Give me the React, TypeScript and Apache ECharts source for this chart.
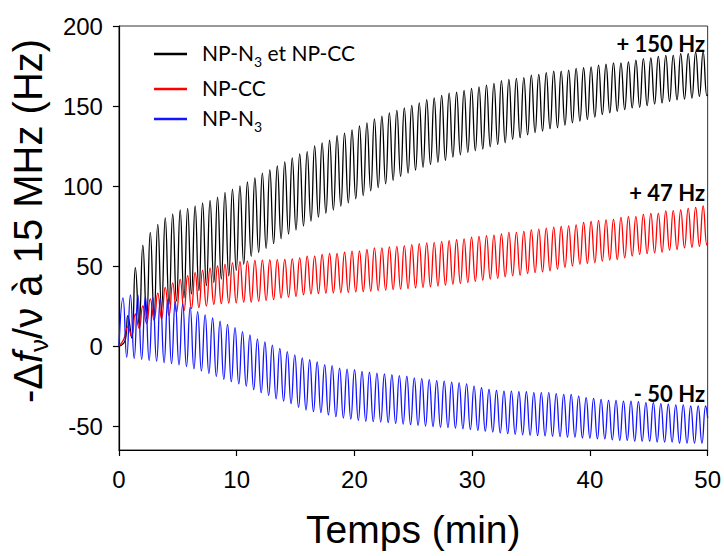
import React, { useEffect, useRef } from "react";
import * as echarts from "echarts";

// ---- data ----
const PERIOD = 0.6345; // min, one oscillation
const X_TICKS = [0, 10, 20, 30, 40, 50];
const Y_TICKS = [-50, 0, 50, 100, 150, 200];
const SERIES_NAMES = ["NP-N3 et NP-CC", "NP-CC", "NP-N3"];
const ANNOTATIONS = ["+ 150 Hz", "+ 47 Hz", "- 50 Hz"];

// black : NP-N3 et NP-CC
const blackLead = [[0, 0], [0.3, 1], [0.55, 4]];
const blackFirstPeak = 0.76;
const blackPeaks = [19, 49, 63, 71, 76, 80, 82.5, 85, 86, 87.5, 89.5, 91, 93, 96, 98, 100, 102.5, 105, 108, 110, 112.5, 115, 117.5, 120, 121.5, 125, 127, 128.6, 131.5, 133, 135, 137.5, 139.5, 142, 143.6, 145.7, 147.3, 148.8, 150.4, 152, 154, 155, 156.6, 158, 158.6, 159.7, 161, 162, 163, 164.2, 165.8, 166.6, 167.3, 167.7, 169.3, 169.8, 170.8, 171.8, 171.8, 172.4, 173.5, 173.9, 174.5, 175.5, 176.1, 177, 177, 177.6, 178.6, 179.6, 180, 181, 181.7, 181.7, 182.7, 182.7, 183.7, 184];
const blackFirstTrough = 1.08;
const blackTroughs = [5, 13, 17, 19, 23, 26, 28, 30, 32.5, 34.6, 37.7, 39.7, 41.8, 43.8, 47.3, 51, 56, 58.5, 61, 64, 67, 70, 72.5, 75, 78, 80.5, 83, 85, 87.4, 89.5, 92, 94, 97, 99, 101.4, 103.5, 106, 108, 110, 111.7, 113.4, 114.8, 116, 118, 119.5, 121, 122, 123, 124.5, 126, 127, 129.2, 130.2, 131.9, 133.3, 134.3, 135.8, 136.4, 138, 139.5, 140.5, 141.6, 143, 144.6, 145.7, 146.7, 147.7, 148.8, 149.2, 150.2, 151.2, 151.9, 152.9, 153.9, 154.3, 155, 156, 156.5];
const blackTail = [[50, 157]];

// red : NP-CC
const redLead = [[0, 0], [0.4, 4]];
const redFirstPeak = 0.76;
const redPeaks = [12, 20, 25, 29.4, 33, 36.6, 39.5, 41.6, 44, 45.9, 47.3, 48.6, 50, 51, 52, 52.7, 53, 53.5, 53.7, 53.8, 54, 54.2, 54.5, 55.1, 56.2, 56.2, 57.2, 57.8, 57.8, 58.6, 59.3, 59.3, 60.3, 61.3, 61.3, 61.9, 62.3, 62.7, 63.4, 64, 64.4, 64.8, 65.4, 65.8, 66.4, 66.9, 68, 68.5, 69, 69.3, 70, 71, 71, 71.6, 72.6, 73, 73.7, 74.3, 74.7, 75.1, 75.7, 77.2, 77.8, 78.4, 78.8, 79.2, 80.4, 80.9, 80.9, 82.3, 82.9, 82.9, 84.4, 84.6, 85, 86, 86.6, 87.5];
const redFirstTrough = 1.08;
const redTroughs = [6, 11, 14, 16, 17, 19, 21, 22, 23.4, 24, 25, 26, 26.5, 26.8, 27, 27.4, 27.4, 28, 28.5, 29, 30, 30.5, 31, 32, 32.5, 32.8, 33, 33.2, 33.4, 33.5, 33.8, 34, 34.3, 34.6, 34.9, 35.3, 35.6, 35.9, 36.3, 36.6, 37, 37.5, 38, 38.6, 39.1, 39.7, 40.4, 41.1, 41.8, 42.3, 43.2, 43.8, 44.2, 45.3, 45.9, 46.3, 46.9, 48, 49, 50, 51, 51.6, 52, 53, 53.7, 54, 55.1, 56.2, 57.2, 57.8, 58.2, 58.6, 59.9, 60.3, 61.3, 61.7, 62.3, 63];
const redTail = [[50, 64.5]];

// blue : NP-N3
const blueLead = [[0, 0]];
const blueFirstPeak = 0.34;
const bluePeaks = [30, 32, 32, 31, 30.4, 29.6, 29, 27.8, 26.3, 24.3, 21.5, 19.5, 17.5, 15.5, 13.5, 11.5, 9, 7, 4.5, 2.5, 0.5, -1.5, -3.5, -5.5, -7.5, -8.6, -10, -11.7, -12.3, -13.8, -14.4, -14.8, -15.8, -16.3, -16.9, -17.5, -17.9, -18.5, -18.9, -20, -20.4, -21, -21.6, -22, -22.6, -23, -23.7, -25.1, -26.1, -27.2, -27.8, -28.2, -28.2, -28.6, -28.6, -29.2, -29.2, -29.2, -29.8, -30.2, -30.2, -31.3, -32.3, -32.7, -33.3, -34, -34, -34.4, -34.4, -34.8, -35.4, -35.4, -36, -36.4, -36.8, -36.8, -37.5, -37.5, -37.5];
const blueFirstTrough = 0.66;
const blueTroughs = [-7, -7.8, -8.3, -9, -9.5, -10.4, -11, -11.8, -12.8, -14.3, -15.6, -17.2, -19, -20.8, -22.3, -23.7, -25.1, -27.3, -29.2, -30.9, -33, -34.4, -36, -38.3, -40, -41, -41.6, -43, -44.2, -45, -45.7, -46.5, -47.1, -47.3, -47.5, -47.9, -48.4, -48.8, -49.2, -49.6, -50, -50.4, -50.8, -51, -51.3, -51.7, -52.2, -52.7, -53.2, -53.8, -54.3, -54.8, -55.2, -55.5, -55.8, -56, -56.2, -56.4, -56.6, -57, -57, -57.4, -57.6, -58, -58, -58.6, -59, -59, -59.5, -59.5, -59.5, -60, -60, -60, -60.7, -60.7, -60.7, -60.7];
const blueTail = [[50, -45]];

function buildSeries(
  lead: number[][],
  firstPeak: number,
  peaks: number[],
  firstTrough: number,
  troughs: number[],
  tail: number[][]
) {
  const pts: number[][] = lead.map((p) => [p[0], p[1]]);
  peaks.forEach((v, i) => pts.push([firstPeak + i * PERIOD, v]));
  troughs.forEach((v, i) => pts.push([firstTrough + i * PERIOD, v]));
  tail.forEach((p) => pts.push([p[0], p[1]]));
  pts.sort((a, b) => a[0] - b[0]);
  return pts;
}

const ARIAL = "'Liberation Sans', Arial, sans-serif";
const CAL = "Lato, 'Open Sans', sans-serif";

export default function App() {
  const ref = useRef<HTMLDivElement>(null);

  useEffect(() => {
    if (!ref.current) return;
    const chart = echarts.init(ref.current, undefined, { renderer: "svg" });

    const legendFmt = (name: string) => {
      if (name === SERIES_NAMES[0]) return "{a|NP-N}{s|3}{a| et NP-CC}";
      if (name === SERIES_NAMES[2]) return "{a|NP-N}{s|3}";
      return "{a|" + name + "}";
    };

    const option: any = {
      animation: false,
      backgroundColor: "#ffffff",
      grid: {
        left: 118,
        right: 13,
        top: 26,
        bottom: 98,
        show: true,
        borderColor: "#333",
        borderWidth: 1,
        backgroundColor: "transparent",
      },
      legend: {
        orient: "vertical",
        left: 149,
        top: 37,
        icon: "rect",
        itemWidth: 33,
        itemHeight: 2.5,
        itemGap: 9,
        selectedMode: false,
        data: SERIES_NAMES,
        formatter: legendFmt,
        textStyle: {
          padding: [0, 0, 0, 10],
          rich: {
            a: { fontFamily: CAL, fontSize: 21, lineHeight: 24, color: "#000", verticalAlign: "top" },
            s: { fontFamily: CAL, fontSize: 14, lineHeight: 14, color: "#000", verticalAlign: "top", padding: [12, 0, 0, 0] },
          },
        },
      },
      xAxis: {
        type: "value",
        min: X_TICKS[0],
        max: X_TICKS[X_TICKS.length - 1],
        interval: 10,
        axisLine: { show: true, onZero: false, lineStyle: { color: "#000", width: 1.2 } },
        axisTick: { show: true, inside: false, length: 6, lineStyle: { color: "#000", width: 1.2 } },
        axisLabel: { fontSize: 24, fontFamily: ARIAL, color: "#000", margin: 17 },
        splitLine: { show: false },
        name: "Temps (min)",
        nameLocation: "middle",
        nameGap: 57,
        nameTextStyle: { fontSize: 39, fontFamily: ARIAL, color: "#000", lineHeight: 44 },
      },
      yAxis: {
        type: "value",
        min: -65,
        max: 200,
        axisLine: { show: true, onZero: false, lineStyle: { color: "#000", width: 1.2 } },
        axisTick: { show: true, inside: false, length: 6, customValues: Y_TICKS, lineStyle: { color: "#000", width: 1.2 } },
        axisLabel: { fontSize: 24, fontFamily: ARIAL, color: "#000", margin: 16, customValues: Y_TICKS },
        splitLine: { show: false },
        name: "{a|-Δ}{i|f}{s|ν}{a|/ν à 15 MHz (Hz)}",
        nameLocation: "middle",
        nameRotate: 90,
        nameGap: 64,
        nameTextStyle: {
          color: "#000",
          padding: [0, 0, 0, 34],
          rich: {
            a: { fontSize: 40, fontFamily: ARIAL, color: "#000", lineHeight: 46, verticalAlign: "top" },
            i: { fontSize: 40, fontFamily: ARIAL, fontStyle: "italic", color: "#000", lineHeight: 46, verticalAlign: "top" },
            s: { fontSize: 26, fontFamily: ARIAL, color: "#000", lineHeight: 28, verticalAlign: "top", padding: [18, 0, 0, 0] },
          },
        },
      },
      graphic: [
        { type: "text", right: 19, top: 32, style: { text: ANNOTATIONS[0], font: "bold 22px Lato", fill: "#000" } },
        { type: "text", right: 19, top: 181, style: { text: ANNOTATIONS[1], font: "bold 22px Lato", fill: "#000" } },
        { type: "text", right: 19, top: 382, style: { text: ANNOTATIONS[2], font: "bold 22px Lato", fill: "#000" } },
      ],
      series: [
        {
          name: SERIES_NAMES[0],
          type: "line",
          smooth: true,
          showSymbol: false,
          symbol: "none",
          color: "#000000",
          lineStyle: { color: "#000000", width: 1.3 },
          data: buildSeries(blackLead, blackFirstPeak, blackPeaks, blackFirstTrough, blackTroughs, blackTail),
        },
        {
          name: SERIES_NAMES[1],
          type: "line",
          smooth: true,
          showSymbol: false,
          symbol: "none",
          color: "#ff0000",
          lineStyle: { color: "#ff0000", width: 1.3 },
          data: buildSeries(redLead, redFirstPeak, redPeaks, redFirstTrough, redTroughs, redTail),
        },
        {
          name: SERIES_NAMES[2],
          type: "line",
          smooth: true,
          showSymbol: false,
          symbol: "none",
          color: "#1414ff",
          lineStyle: { color: "#1414ff", width: 1.3 },
          data: buildSeries(blueLead, blueFirstPeak, bluePeaks, blueFirstTrough, blueTroughs, blueTail),
        },
      ],
    };

    chart.setOption(option);
    return () => chart.dispose();
  }, []);

  return (
    <div
      ref={ref}
      style={{ position: "absolute", left: 0, top: 0, width: 724, height: 556, background: "#fff" }}
    />
  );
}
